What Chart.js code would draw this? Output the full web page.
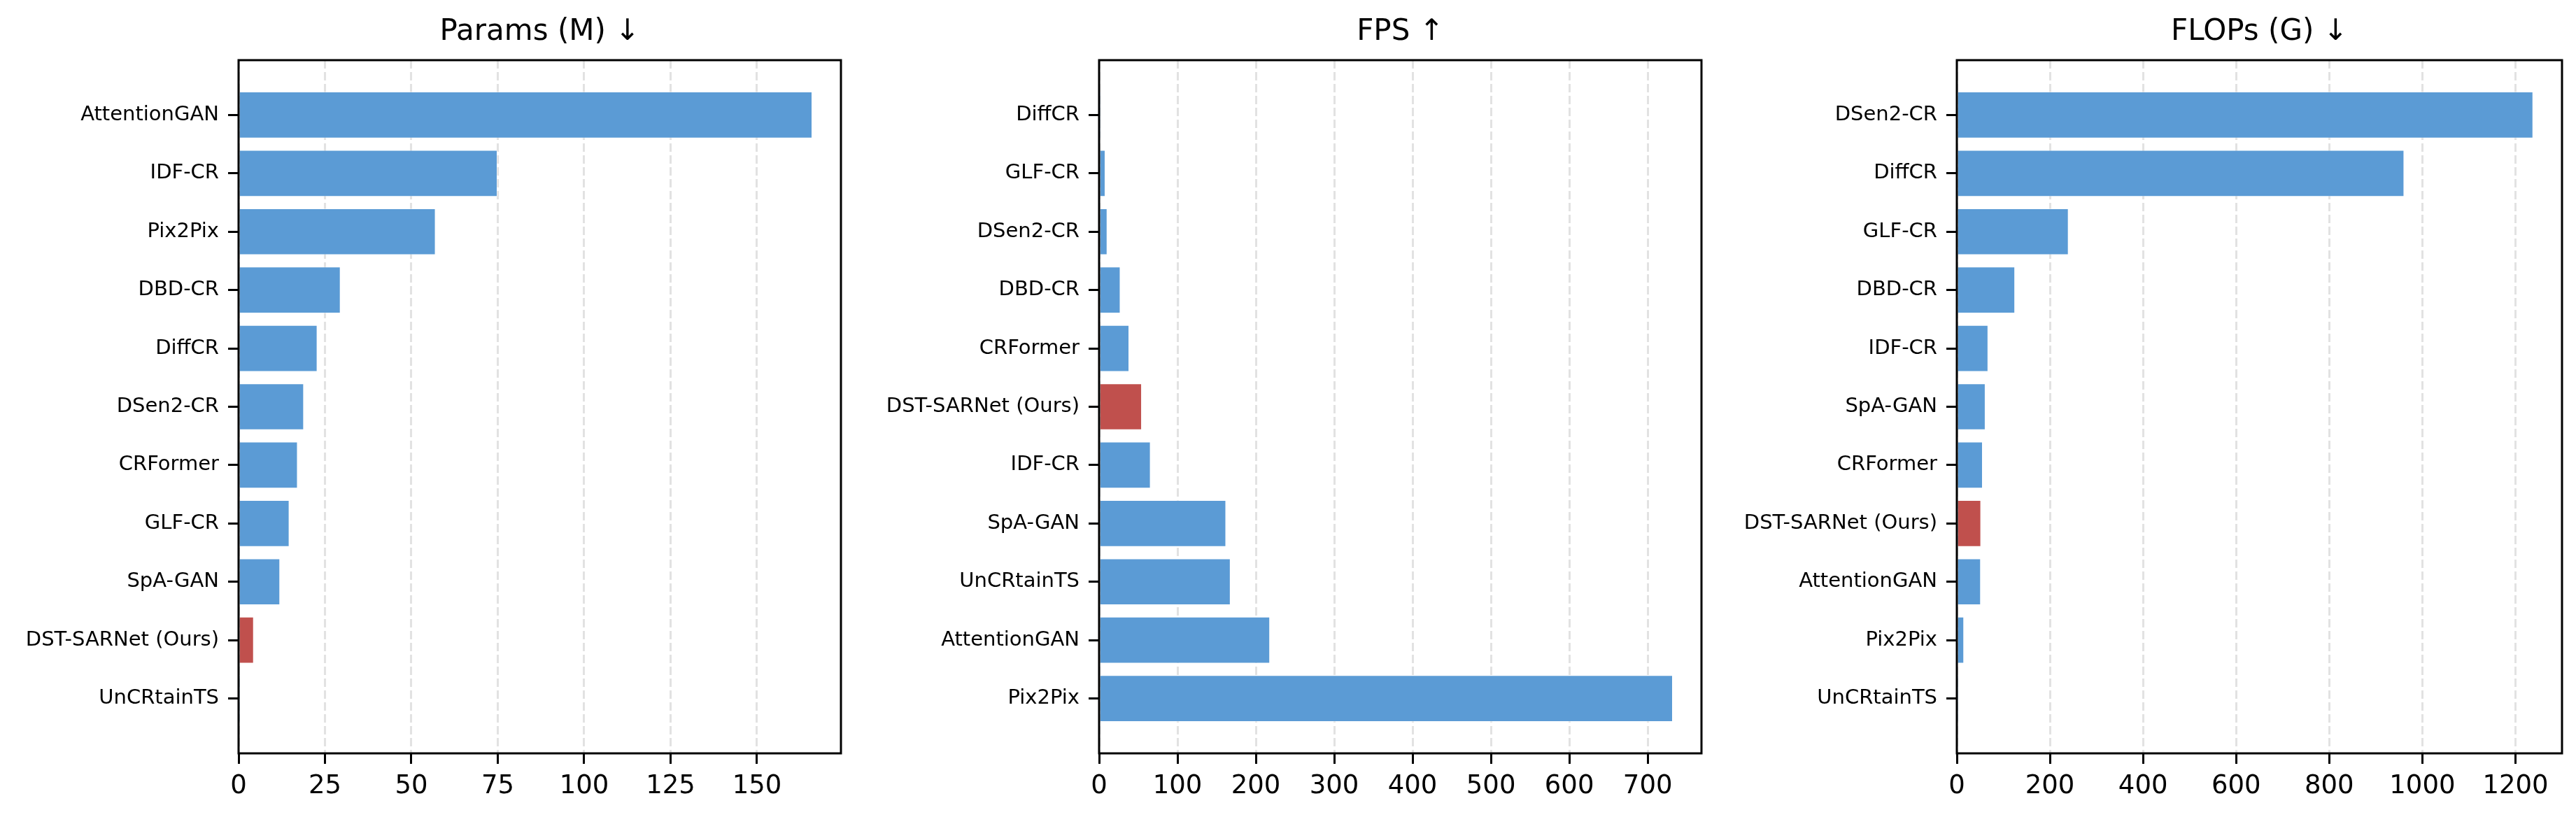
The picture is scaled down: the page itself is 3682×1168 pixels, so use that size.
<!DOCTYPE html>
<html>
<head>
<meta charset="utf-8">
<script src="https://cdn.jsdelivr.net/npm/chart.js@4.4.0/dist/chart.umd.min.js"></script>
<style>
  body { margin: 0; background: #fff; }
  canvas { position: absolute; top: 0; }
</style>
</head>
<body>
<canvas id="paramsChart" width="1227" height="1168" style="left:0px"></canvas>
<canvas id="fpsChart" width="1227" height="1168" style="left:1227px"></canvas>
<canvas id="flopsChart" width="1228" height="1168" style="left:2454px"></canvas>
<script>
// Params (M), sorted as in the figure (top to bottom)
const paramsModels = ['AttentionGAN', 'IDF-CR', 'Pix2Pix', 'DBD-CR', 'DiffCR', 'DSen2-CR',
  'CRFormer', 'GLF-CR', 'SpA-GAN', 'DST-SARNet (Ours)', 'UnCRtainTS'];
const paramsValues = [166.0, 74.9, 57.0, 29.5, 22.8, 18.9, 17.1, 14.7, 12.0, 4.4, 0.5];
const paramsTicks = [0, 25, 50, 75, 100, 125, 150];
const paramsMax = 174.3;

// FPS
const fpsModels = ['DiffCR', 'GLF-CR', 'DSen2-CR', 'DBD-CR', 'CRFormer', 'DST-SARNet (Ours)',
  'IDF-CR', 'SpA-GAN', 'UnCRtainTS', 'AttentionGAN', 'Pix2Pix'];
const fpsValues = [0.5, 8.0, 10.5, 27.2, 38.4, 54.5, 65.7, 162, 167.7, 218, 732];
const fpsTicks = [0, 100, 200, 300, 400, 500, 600, 700];
const fpsMax = 768.6;

// FLOPs (G)
const flopsModels = ['DSen2-CR', 'DiffCR', 'GLF-CR', 'DBD-CR', 'IDF-CR', 'SpA-GAN',
  'CRFormer', 'DST-SARNet (Ours)', 'AttentionGAN', 'Pix2Pix', 'UnCRtainTS'];
const flopsValues = [1238, 961, 240, 125, 67.4, 61.5, 55.6, 52.0, 51.5, 15.4, 0.5];
const flopsTicks = [0, 200, 400, 600, 800, 1000, 1200];
const flopsMax = 1300;

const OURS = 'DST-SARNet (Ours)';
const BLUE = '#5b9bd5';
const RED = '#c0504d';
const FONT = "'DejaVu Sans', sans-serif";

// full box around the plot area, like matplotlib spines
const framePlugin = {
  id: 'frame',
  afterDraw(chart) {
    const a = chart.chartArea;
    const c = chart.ctx;
    c.save();
    c.strokeStyle = '#000';
    c.lineWidth = 3;
    c.strokeRect(a.left, a.top, a.right - a.left, a.bottom - a.top);
    c.restore();
  }
};

function makeChart(id, title, models, values, ticks, xMax, yWidth, rightPad) {
  const n = models.length;
  return new Chart(document.getElementById(id), {
    type: 'bar',
    data: {
      datasets: [{
        data: values.map((v, i) => ({ x: v, y: i })),
        backgroundColor: models.map(m => m === OURS ? RED : BLUE),
        borderColor: 'rgba(255,255,255,0.45)',
        borderWidth: 1,
        barPercentage: 0.8,
        categoryPercentage: 1.0
      }]
    },
    options: {
      indexAxis: 'y',
      responsive: false,
      devicePixelRatio: 1,
      animation: false,
      layout: { padding: { left: 0, right: rightPad, top: 0, bottom: 0 } },
      plugins: {
        legend: { display: false },
        tooltip: { enabled: false },
        title: {
          display: true,
          text: title,
          fullSize: false,
          color: '#000',
          font: { family: FONT, size: 42, weight: 'normal', lineHeight: 1.2 },
          padding: { top: 21, bottom: 14.6 }
        }
      },
      scales: {
        x: {
          type: 'linear',
          min: 0,
          max: xMax,
          offset: false,
          afterBuildTicks: (scale) => { scale.ticks = ticks.map(v => ({ value: v })); },
          afterFit: (scale) => { scale.height = 91; },
          border: { display: false, dash: [12, 5] },
          grid: {
            offset: false,
            color: '#e2e2e2',
            lineWidth: 3,
            tickColor: '#000',
            tickWidth: 3,
            tickLength: 15,
            tickBorderDash: []
          },
          ticks: {
            color: '#000',
            padding: 10,
            maxRotation: 0,
            autoSkip: false,
            font: { family: FONT, size: 37 },
            callback: (v) => String(v)
          }
        },
        y: {
          type: 'linear',
          reverse: true,
          offset: false,
          min: -0.94,
          max: n - 1 + 0.94,
          afterBuildTicks: (scale) => { scale.ticks = models.map((m, i) => ({ value: i })); },
          afterFit: (scale) => { scale.width = yWidth; },
          border: { display: false },
          grid: {
            offset: false,
            drawOnChartArea: false,
            color: '#000',
            tickColor: '#000',
            tickWidth: 3,
            tickLength: 15
          },
          ticks: {
            color: '#000',
            padding: 13,
            autoSkip: false,
            font: { family: FONT, size: 29 },
            callback: (v) => models[v]
          }
        }
      }
    },
    plugins: [framePlugin]
  });
}

makeChart('paramsChart', 'Params (M) \u2193', paramsModels, paramsValues, paramsTicks, paramsMax, 341, 25);
makeChart('fpsChart', 'FPS \u2191', fpsModels, fpsValues, fpsTicks, fpsMax, 344, 22);
makeChart('flopsChart', 'FLOPs (G) \u2193', flopsModels, flopsValues, flopsTicks, flopsMax, 343, 20);
</script>
</body>
</html>
